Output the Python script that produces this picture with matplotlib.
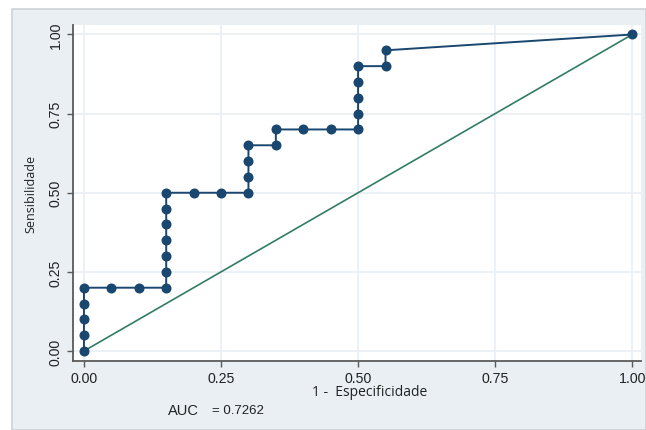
import matplotlib
matplotlib.use("Agg")
import matplotlib.pyplot as plt
from matplotlib.patches import Rectangle

# ROC curve points (1 - specificity, sensitivity)
fpr = [0.00, 0.00, 0.00, 0.00, 0.00, 0.05, 0.10, 0.15, 0.15, 0.15, 0.15,
       0.15, 0.15, 0.15, 0.20, 0.25, 0.30, 0.30, 0.30, 0.30, 0.35, 0.35,
       0.40, 0.45, 0.50, 0.50, 0.50, 0.50, 0.50, 0.55, 0.55, 1.00]
tpr = [0.00, 0.05, 0.10, 0.15, 0.20, 0.20, 0.20, 0.20, 0.25, 0.30, 0.35,
       0.40, 0.45, 0.50, 0.50, 0.50, 0.50, 0.55, 0.60, 0.65, 0.65, 0.70,
       0.70, 0.70, 0.70, 0.75, 0.80, 0.85, 0.90, 0.90, 0.95, 1.00]
ref_line = [0.0, 1.0]
ticks = [0.0, 0.25, 0.5, 0.75, 1.0]
tick_labels = ["0.00", "0.25", "0.50", "0.75", "1.00"]
auc = 0.7262

W, H = 646, 431
fig = plt.figure(figsize=(W / 100, H / 100), dpi=100, facecolor="white")

# graph region background
bg = Rectangle((12 / W, 0), 1 - 12 / W, (H - 10) / H, transform=fig.transFigure,
               facecolor="#e9eff3", edgecolor="#cfd3d6", linewidth=1.2, zorder=-5)
fig.patches.append(bg)

ax = fig.add_axes([73 / W, 1 - 361.5 / H, (641 - 73) / W, (361.5 - 26) / H])
ax.set_facecolor("white")
ax.set_xlim(-0.02, 1.016)
ax.set_ylim(-0.03, 1.03)

ax.plot(ref_line, ref_line, color="#327c66", lw=1.2, zorder=2)
ax.plot(fpr, tpr, color="#1a476f", lw=1.4, marker="o", markersize=6.2,
        markerfacecolor="#1a476f", markeredgecolor="#1a476f", zorder=3)

for side in ("top", "right"):
    ax.spines[side].set_visible(False)
for side in ("left", "bottom"):
    ax.spines[side].set_color("#5a5a5a")
    ax.spines[side].set_linewidth(1.3)

ax.set_xticks(ticks)
ax.set_xticklabels(tick_labels)
ax.set_yticks(ticks)
ax.set_yticklabels(tick_labels, rotation=90, va="center")
ax.tick_params(direction="out", length=4.5, width=1, color="#5a5a5a",
               labelsize=10.2, labelcolor="#222222", pad=3)
for lab in ax.get_xticklabels() + ax.get_yticklabels():
    lab.set_family("Liberation Sans")
ax.grid(True, color="#e9eff3", lw=1.2, zorder=0)
ax.set_axisbelow(True)

ax.set_ylabel("Sensibilidade", family="Open Sans", fontsize=9,
              color="#222222", labelpad=8)
fig.text(370 / W, 1 - 393 / H, "1 -  Especificidade", family="Open Sans",
         fontsize=10, color="#222222", ha="center", va="center")

fig.text(168 / W, 1 - 411.5 / H, "AUC", family="Liberation Sans",
         fontsize=10.5, color="#222222", ha="left", va="center")
fig.text(212 / W, 1 - 411.5 / H, f"= {auc:.4f}", family="Liberation Sans",
         fontsize=9.5, color="#222222", ha="left", va="center")

fig.savefig("out.png", dpi=100, facecolor="white")
